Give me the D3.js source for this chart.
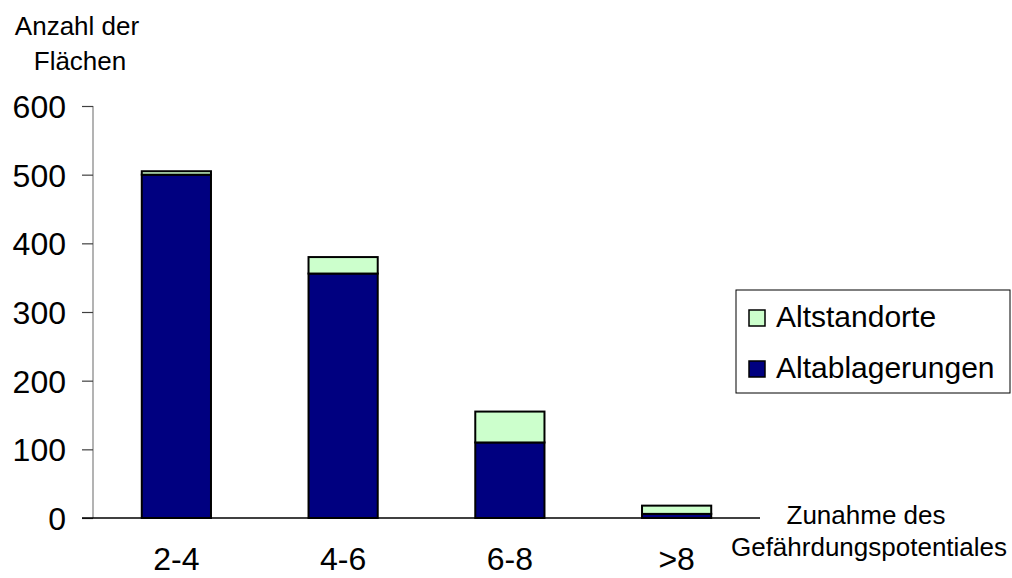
<!DOCTYPE html>
<html>
<head>
<meta charset="utf-8">
<script src="https://cdn.jsdelivr.net/npm/d3@7"></script>
<style>
  html, body { margin: 0; padding: 0; background: #fff; }
  svg { display: block; font-family: "Liberation Sans", Arial, sans-serif; }
</style>
</head>
<body>
<svg id="chart" width="1012" height="578"></svg>
<script>
// Categories: increase of the hazard potential
const categories = ["2-4", "4-6", "6-8", ">8"];
// Number of sites per category
const altablagerungen = [500, 356, 110, 6];
const altstandorte = [5, 24, 45, 12];
const seriesNames = ["Altablagerungen", "Altstandorte"];
const seriesColors = ["#000080", "#CCFFCC"];
const yTicks = [0, 100, 200, 300, 400, 500, 600];

const svg = d3.select("#chart");

const x = d3.scaleBand()
  .domain(categories)
  .range([93, 760])
  .paddingInner(0.585)
  .paddingOuter(0.2925);

const y = d3.scaleLinear()
  .domain([0, 600])
  .range([518, 106]);

const rows = categories.map((c, i) => ({
  cat: c,
  Altablagerungen: altablagerungen[i],
  Altstandorte: altstandorte[i]
}));
const stacked = d3.stack().keys(seriesNames)(rows);

// Y axis
const yAxis = svg.append("g")
  .attr("transform", "translate(93,0)")
  .call(d3.axisLeft(y).tickValues(yTicks).tickSize(11).tickPadding(16));
yAxis.select(".domain").attr("stroke", "#808080").attr("stroke-width", 1.2)
  .attr("d", `M0,${y(600)}V${y(0)}`);
yAxis.selectAll(".tick line").attr("stroke", "#404040").attr("stroke-width", 1.2);
yAxis.selectAll(".tick text")
  .attr("font-size", 32)
  .attr("fill", "#000")
  .attr("dy", "0.36em");

// Bars
const series = svg.append("g").selectAll("g")
  .data(stacked)
  .join("g")
  .attr("fill", (d, i) => seriesColors[i]);

series.selectAll("rect")
  .data(d => d)
  .join("rect")
  .attr("x", d => x(d.data.cat))
  .attr("y", d => y(d[1]))
  .attr("width", x.bandwidth())
  .attr("height", d => y(d[0]) - y(d[1]))
  .attr("stroke", "#000")
  .attr("stroke-width", 2);

// Baseline (x axis)
svg.append("line")
  .attr("x1", 82).attr("x2", 760)
  .attr("y1", y(0)).attr("y2", y(0))
  .attr("stroke", "#000").attr("stroke-width", 1.5);

// Category labels
svg.append("g").selectAll("text")
  .data(categories)
  .join("text")
  .attr("x", d => x(d) + x.bandwidth() / 2)
  .attr("y", 570)
  .attr("text-anchor", "middle")
  .attr("font-size", 32)
  .text(d => d);

// Axis titles
const yTitle = svg.append("text")
  .attr("text-anchor", "middle")
  .attr("font-size", 26);
yTitle.append("tspan").attr("x", 77).attr("y", 35).text("Anzahl der");
yTitle.append("tspan").attr("x", 80).attr("y", 70).text("Flächen");

const xTitle = svg.append("text")
  .attr("text-anchor", "middle")
  .attr("font-size", 26);
xTitle.append("tspan").attr("x", 866).attr("y", 524).text("Zunahme des");
xTitle.append("tspan").attr("x", 869).attr("y", 556).text("Gefährdungspotentiales");

// Legend
const legend = svg.append("g");
legend.append("rect")
  .attr("x", 736).attr("y", 290)
  .attr("width", 274).attr("height", 103)
  .attr("fill", "#fff")
  .attr("stroke", "#000").attr("stroke-width", 1);

const legendItems = [
  { name: "Altstandorte", color: seriesColors[1] },
  { name: "Altablagerungen", color: seriesColors[0] }
];
const li = legend.selectAll("g.item")
  .data(legendItems)
  .join("g")
  .attr("class", "item")
  .attr("transform", (d, i) => `translate(0,${i * 51})`);
li.append("rect")
  .attr("x", 749).attr("y", 310)
  .attr("width", 16).attr("height", 16)
  .attr("fill", d => d.color)
  .attr("stroke", "#000").attr("stroke-width", 1.5);
li.append("text")
  .attr("x", 776).attr("y", 327)
  .attr("font-size", 30)
  .text(d => d.name);
</script>
</body>
</html>
